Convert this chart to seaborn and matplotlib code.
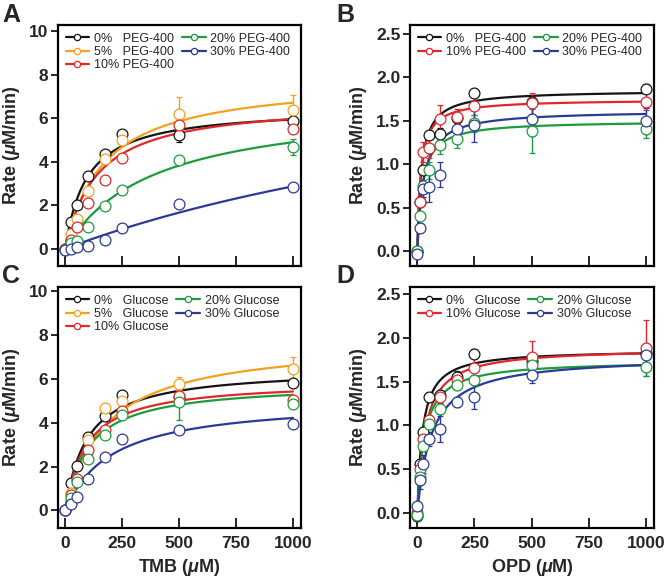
import numpy as np
import pandas as pd
import matplotlib
matplotlib.use("Agg")
import matplotlib.pyplot as plt
from matplotlib.lines import Line2D
import seaborn as sns

# ---------------- data ----------------
tmb_conc = [0, 25, 50, 100, 175, 250, 500, 1000]
opd_conc = [0, 10, 25, 50, 100, 175, 250, 500, 1000]

# Panel A: TMB, PEG-400
a_labels = ["0%   PEG-400", "5%   PEG-400", "10% PEG-400", "20% PEG-400", "30% PEG-400"]
a_rate_0 = [0.00, 1.21, 2.02, 3.32, 4.36, 5.28, 5.21, 5.87]
a_rate_5 = [0.00, 0.68, 1.37, 2.67, 4.13, 5.01, 6.17, 6.37]
a_rate_10 = [0.00, 0.40, 0.98, 2.09, 3.17, 4.16, 5.67, 5.52]
a_rate_20 = [-0.05, 0.26, 0.37, 1.01, 1.95, 2.70, 4.08, 4.68]
a_rate_30 = [-0.05, -0.03, 0.07, 0.14, 0.41, 0.95, 2.04, 2.84]
a_err_0 = [0.05, 0.05, 0.08, 0.08, 0.08, 0.10, 0.30, 0.10]
a_err_5 = [0.05, 0.05, 0.08, 0.08, 0.08, 0.10, 0.80, 0.70]
a_err_10 = [0.05, 0.05, 0.08, 0.08, 0.08, 0.08, 0.10, 0.10]
a_err_20 = [0.05, 0.05, 0.05, 0.05, 0.08, 0.08, 0.10, 0.37]
a_err_30 = [0.05, 0.05, 0.05, 0.05, 0.05, 0.05, 0.10, 0.05]
a_vmax = [6.5, 7.85, 6.8, 6.8, 10.6]
a_km = [95, 170, 140, 390, 2700]

# Panel B: OPD, PEG-400
b_labels = ["0%   PEG-400", "10% PEG-400", "20% PEG-400", "30% PEG-400"]
b_rate_0 = [0.00, 0.56, 0.93, 1.33, 1.35, 1.53, 1.82, 1.72, 1.87]
b_rate_10 = [0.00, 0.57, 1.14, 1.19, 1.52, 1.54, 1.67, 1.70, 1.72]
b_rate_20 = [0.00, 0.40, 0.75, 0.93, 1.22, 1.29, 1.47, 1.38, 1.40]
b_rate_30 = [-0.03, 0.27, 0.72, 0.74, 0.88, 1.40, 1.45, 1.52, 1.50]
b_err_0 = [0.02, 0.03, 0.04, 0.04, 0.07, 0.05, 0.05, 0.05, 0.05]
b_err_10 = [0.02, 0.05, 0.12, 0.12, 0.16, 0.10, 0.10, 0.12, 0.10]
b_err_20 = [0.02, 0.04, 0.05, 0.10, 0.10, 0.10, 0.10, 0.25, 0.10]
b_err_30 = [0.02, 0.05, 0.10, 0.17, 0.14, 0.10, 0.20, 0.20, 0.15]
b_vmax = [1.85, 1.745, 1.50, 1.62]
b_km = [18, 15, 22, 27]

# Panel C: TMB, Glucose
c_labels = ["0%   Glucose", "5%   Glucose", "10% Glucose", "20% Glucose", "30% Glucose"]
c_rate_0 = [0.00, 1.25, 2.04, 3.35, 4.29, 5.28, 5.17, 5.84]
c_rate_5 = [0.00, 0.80, 1.40, 3.23, 4.68, 4.98, 5.78, 6.45]
c_rate_10 = [0.00, 0.72, 1.45, 2.77, 3.68, 4.55, 5.24, 5.05]
c_rate_20 = [0.00, 0.55, 1.32, 2.35, 3.43, 4.37, 4.93, 4.87]
c_rate_30 = [0.03, 0.31, 0.61, 1.45, 2.44, 3.24, 3.68, 3.96]
c_err_0 = [0.05, 0.05, 0.08, 0.08, 0.08, 0.10, 0.25, 0.10]
c_err_5 = [0.05, 0.05, 0.08, 0.15, 0.08, 0.10, 0.30, 0.55]
c_err_10 = [0.05, 0.05, 0.08, 0.08, 0.08, 0.08, 0.20, 0.10]
c_err_20 = [0.05, 0.05, 0.08, 0.08, 0.08, 0.08, 0.80, 0.10]
c_err_30 = [0.05, 0.05, 0.05, 0.05, 0.05, 0.05, 0.05, 0.05]
c_vmax = [6.5, 7.78, 5.93, 5.82, 5.08]
c_km = [95, 176, 92, 103, 203]

# Panel D: OPD, Glucose
d_labels = ["0%   Glucose", "10% Glucose", "20% Glucose", "30% Glucose"]
d_rate_0 = [-0.03, 0.56, 0.93, 1.33, 1.35, 1.55, 1.82, 1.73, 1.83]
d_rate_10 = [0.00, 0.50, 0.85, 1.06, 1.32, 1.52, 1.66, 1.78, 1.88]
d_rate_20 = [-0.02, 0.41, 0.76, 1.02, 1.19, 1.46, 1.52, 1.69, 1.67]
d_rate_30 = [0.08, 0.38, 0.56, 0.84, 0.96, 1.27, 1.33, 1.58, 1.80]
d_err_0 = [0.03, 0.03, 0.04, 0.04, 0.05, 0.07, 0.05, 0.05, 0.05]
d_err_10 = [0.03, 0.04, 0.05, 0.05, 0.06, 0.06, 0.18, 0.18, 0.32]
d_err_20 = [0.05, 0.05, 0.05, 0.05, 0.06, 0.06, 0.06, 0.08, 0.10]
d_err_30 = [0.05, 0.10, 0.10, 0.08, 0.15, 0.06, 0.14, 0.10, 0.08]
d_vmax = [1.865, 1.886, 1.742, 1.794]
d_km = [23, 34, 31, 62]

col_black = "#141414"
col_orange = "#F5A01E"
col_red = "#E3262B"
col_green = "#1E9B3C"
col_blue = "#2B3A96"
colors5 = [col_black, col_orange, col_red, col_green, col_blue]
colors4 = [col_black, col_red, col_green, col_blue]

# ---------------- style ----------------
sns.set_theme(style="ticks")
plt.rcParams["font.family"] = ["Liberation Sans", "DejaVu Sans"]
plt.rcParams["mathtext.fontset"] = "custom"
plt.rcParams["mathtext.it"] = "Liberation Sans:italic:bold"
plt.rcParams["mathtext.rm"] = "Liberation Sans:bold"

fig = plt.figure(figsize=(6.66, 5.85), dpi=100)
W, H = 666.0, 585.0
pos = {
    "A": [58 / W, 1 - 266 / H, 243 / W, 241 / H],
    "B": [410 / W, 1 - 266 / H, 244 / W, 241 / H],
    "C": [58 / W, 1 - 528 / H, 243 / W, 241 / H],
    "D": [410 / W, 1 - 528 / H, 244 / W, 241 / H],
}


def panel(ax, conc, rates, errs, vmaxs, kms, labels, colors, ylim, yticks, fmt, xlabel):
    grid = np.linspace(0, 1000, 400)
    rows = []
    for lab, vm, km in zip(labels, vmaxs, kms):
        for s in grid:
            rows.append({"S": s, "v": vm * s / (km + s), "series": lab})
    df = pd.DataFrame(rows)
    sns.lineplot(data=df, x="S", y="v", hue="series", hue_order=labels,
                 palette=dict(zip(labels, colors)), legend=False, ax=ax,
                 linewidth=1.6, zorder=2)
    for r, e, c in zip(rates, errs, colors):
        ax.errorbar(conc, r, yerr=e, fmt="o", mfc="white", mec=c, ecolor=c,
                    ms=7.8, mew=0.9, capsize=2.5, elinewidth=1.0, capthick=1.0,
                    zorder=3)
    handles = [Line2D([0], [0], color=c, lw=1.6, marker="o", mfc="white",
                      mec=c, ms=4.5, mew=0.9) for c in colors]
    ax.legend(handles, labels, ncol=2, loc="upper left", frameon=False,
              fontsize=9, handlelength=1.9, handletextpad=0.4,
              columnspacing=0.6, labelspacing=0.12, borderaxespad=0.35,
              borderpad=0.25)
    ax.set_xlim(-32, 1035)
    ax.set_ylim(*ylim)
    ax.set_xticks([0, 250, 500, 750, 1000])
    ax.set_yticks(yticks)
    ax.set_yticklabels([fmt.format(t) for t in yticks])
    ax.tick_params(axis="x", direction="in", length=7, width=1.4,
                   labelsize=12.5, pad=6)
    ax.tick_params(axis="y", direction="out", length=5, width=1.4,
                   labelsize=12.5, pad=2)
    for lab in ax.get_xticklabels() + ax.get_yticklabels():
        lab.set_fontweight("bold")
    for sp in ax.spines.values():
        sp.set_visible(True)
        sp.set_linewidth(1.6)
        sp.set_color("black")
    ax.set_ylabel(r"Rate ($\mu$M/min)", fontsize=13, fontweight="bold", labelpad=5)
    if xlabel:
        ax.set_xlabel(xlabel, fontsize=13, fontweight="bold", labelpad=4)
    else:
        ax.set_xlabel("")
        ax.set_xticklabels([])


axA = fig.add_axes(pos["A"])
panel(axA, tmb_conc, [a_rate_0, a_rate_5, a_rate_10, a_rate_20, a_rate_30],
      [a_err_0, a_err_5, a_err_10, a_err_20, a_err_30], a_vmax, a_km,
      a_labels, colors5, (-0.8, 10.28), [0, 2, 4, 6, 8, 10], "{:.0f}", None)

axB = fig.add_axes(pos["B"])
panel(axB, opd_conc, [b_rate_0, b_rate_10, b_rate_20, b_rate_30],
      [b_err_0, b_err_10, b_err_20, b_err_30], b_vmax, b_km,
      b_labels, colors4, (-0.17, 2.6), [0.0, 0.5, 1.0, 1.5, 2.0, 2.5], "{:.1f}", None)

axC = fig.add_axes(pos["C"])
panel(axC, tmb_conc, [c_rate_0, c_rate_5, c_rate_10, c_rate_20, c_rate_30],
      [c_err_0, c_err_5, c_err_10, c_err_20, c_err_30], c_vmax, c_km,
      c_labels, colors5, (-0.8, 10.2), [0, 2, 4, 6, 8, 10], "{:.0f}",
      r"TMB ($\mu$M)")

axD = fig.add_axes(pos["D"])
panel(axD, opd_conc, [d_rate_0, d_rate_10, d_rate_20, d_rate_30],
      [d_err_0, d_err_10, d_err_20, d_err_30], d_vmax, d_km,
      d_labels, colors4, (-0.17, 2.58), [0.0, 0.5, 1.0, 1.5, 2.0, 2.5], "{:.1f}",
      r"OPD ($\mu$M)")

for letter, x, y in [("A", 2, 3), ("B", 336, 3), ("C", 2, 264), ("D", 336, 264)]:
    fig.text(x / W, 1 - y / H, letter, fontsize=18, fontweight="bold",
             ha="left", va="top")

fig.savefig("out.png", dpi=100)
